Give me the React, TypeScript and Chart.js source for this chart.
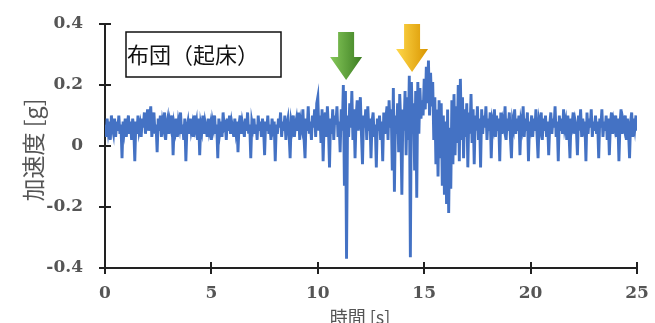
import { useEffect, useRef } from "react";
import { Chart, registerables } from "chart.js";

Chart.register(...registerables);

// sampling interval [s]
const DT = 0.05;

// acceleration [g], one row per second (20 samples each)
const accel: number[] = [
  0.07, 0.03, 0.09, 0.05, 0.08, 0.02, 0.10, 0.06, 0.04, 0.09, 0.03, 0.08, 0.05, 0.10, 0.04, 0.07, -0.04, 0.08, 0.05, 0.09,
  0.03, 0.07, 0.10, 0.04, 0.08, 0.02, 0.09, 0.06, -0.05, 0.08, 0.04, 0.10, 0.05, 0.07, 0.03, 0.09, 0.06, 0.11, 0.04, 0.08,
  0.12, 0.05, 0.09, 0.13, 0.03, 0.08, 0.11, 0.04, 0.07, -0.02, 0.09, 0.05, 0.10, 0.03, 0.08, 0.06, 0.11, 0.02, 0.07, 0.09,
  0.04, 0.08, 0.06, 0.10, -0.03, 0.07, 0.05, 0.09, 0.03, 0.08, 0.06, 0.11, 0.04, 0.07, 0.02, 0.09, -0.05, 0.06, 0.08, 0.04,
  0.09, 0.05, 0.07, 0.03, 0.10, 0.06, 0.08, 0.02, 0.09, -0.03, 0.07, 0.05, 0.10, 0.04, 0.08, 0.06, 0.03, 0.09, 0.05, 0.07,
  0.02, 0.08, 0.06, 0.10, 0.04, 0.07, -0.04, 0.09, 0.05, 0.08, 0.03, 0.11, 0.06, 0.07, 0.02, 0.09, 0.05, 0.10, 0.04, 0.08,
  0.06, 0.03, 0.09, 0.05, 0.08, -0.02, 0.07, 0.10, 0.04, 0.08, 0.06, 0.03, 0.09, 0.05, 0.11, 0.04, 0.07, -0.04, 0.08, 0.06,
  0.09, 0.04, 0.07, 0.02, 0.10, 0.05, 0.08, 0.03, 0.09, 0.06, -0.03, 0.08, 0.05, 0.10, 0.04, 0.07, 0.02, 0.09, 0.06, 0.08,
  -0.05, 0.07, 0.04, 0.09, 0.06, 0.11, 0.03, 0.08, 0.05, 0.10, 0.02, 0.07, 0.09, 0.04, -0.04, 0.08, 0.06, 0.10, 0.03, 0.07,
  0.09, 0.05, 0.11, 0.02, 0.08, 0.06, 0.12, 0.03, -0.04, 0.09, 0.05, 0.13, 0.04, 0.08, 0.02, 0.10, 0.06, 0.12, 0.03, 0.14,
  0.16, 0.05, 0.10, 0.01, 0.12, -0.05, 0.08, 0.11, 0.03, 0.13, 0.06, -0.07, 0.09, 0.04, 0.12, 0.02, 0.10, 0.07, 0.13, 0.03,
  0.08, -0.02, 0.12, 0.05, 0.20, -0.13, 0.18, -0.37, 0.10, 0.03, 0.14, 0.06, 0.18, 0.02, 0.12, -0.04, 0.09, 0.15, 0.05, 0.11,
  0.16, 0.04, -0.06, 0.10, 0.06, 0.12, 0.02, 0.13, 0.05, 0.09, -0.04, 0.08, 0.11, 0.03, 0.07, -0.07, 0.09, 0.05, 0.10, 0.02,
  0.08, -0.05, 0.11, 0.04, 0.09, 0.13, 0.02, 0.15, 0.06, 0.12, -0.08, 0.19, -0.15, 0.10, 0.04, 0.14, -0.02, 0.17, 0.07, -0.16,
  0.12, 0.05, 0.18, -0.03, 0.16, 0.02, 0.23, -0.365, 0.21, 0.06, 0.14, -0.08, 0.18, -0.17, 0.21, 0.04, 0.19, 0.09, 0.15, 0.10,
  0.22, 0.12, 0.26, 0.14, 0.28, 0.10, 0.24, 0.13, 0.21, 0.02, 0.16, -0.06, 0.12, -0.10, 0.15, -0.04, 0.14, -0.13, 0.10, -0.16,
  0.08, -0.19, 0.12, -0.22, 0.06, -0.14, 0.15, -0.06, 0.17, -0.03, 0.13, 0.01, 0.20, -0.05, 0.22, 0.02, 0.16, -0.04, 0.12, 0.03,
  0.14, -0.07, 0.11, 0.04, 0.17, 0.01, 0.12, -0.06, 0.10, 0.05, 0.13, 0.02, 0.09, -0.07, 0.12, 0.04, 0.10, 0.06, 0.13, 0.02,
  0.09, 0.05, 0.11, -0.04, 0.08, 0.06, 0.12, 0.03, 0.10, 0.05, 0.09, -0.05, 0.11, 0.04, 0.08, 0.06, 0.13, 0.02, 0.09, 0.05,
  0.11, 0.03, -0.04, 0.08, 0.06, 0.12, 0.04, 0.09, 0.05, 0.10, -0.03, 0.08, 0.06, 0.13, 0.03, 0.09, 0.05, 0.11, -0.05, 0.08,
  0.06, 0.10, 0.03, 0.09, 0.05, 0.12, 0.04, -0.04, 0.08, 0.06, 0.11, 0.02, 0.09, 0.05, 0.10, 0.03, 0.08, -0.03, 0.07, 0.11,
  0.04, 0.09, 0.06, 0.13, 0.03, 0.08, -0.05, 0.10, 0.05, 0.09, 0.04, 0.12, 0.06, 0.08, 0.02, 0.10, 0.05, -0.04, 0.09, 0.07,
  0.11, 0.04, 0.08, 0.06, -0.03, 0.10, 0.05, 0.12, 0.03, 0.09, 0.06, 0.08, -0.05, 0.11, 0.04, 0.09, 0.06, 0.12, 0.03, 0.08,
  0.05, 0.10, 0.04, 0.08, -0.04, 0.09, 0.06, 0.12, 0.03, 0.08, 0.05, 0.10, 0.02, 0.09, -0.03, 0.07, 0.11, 0.04, 0.08, 0.06,
  0.10, 0.03, 0.09, -0.05, 0.07, 0.12, 0.04, 0.08, 0.06, 0.10, 0.02, 0.09, 0.05, -0.04, 0.08, 0.11, 0.03, 0.09, 0.06, 0.10,
  0.05,
];

const xTicks = [0, 5, 10, 15, 20, 25];
const yTicks = [-0.4, -0.2, 0, 0.2, 0.4];
const xTitle = "時間 [s]";
const yTitle = "加速度 [g]";
const boxLabel = "布団（起床）";

// arrow markers: time [s] and acceleration [g] of the arrow tip
const arrowTimes = [11.33, 14.43];
const arrowTips = [0.216, 0.243];
const arrowColors = [
  ["#86c85a", "#3c7d22"],
  ["#ffd84a", "#d99500"],
];

const AXIS_COLOR = "#222222";
const TEXT_COLOR = "#555555";
const NUM_FONT = "'DejaVu Serif', serif";
const CJK_FONT = "'Noto Sans CJK JP', sans-serif";

const decorPlugin = {
  id: "decor",
  afterDraw(chart: any) {
    const ctx = chart.ctx as CanvasRenderingContext2D;
    const xs = chart.scales.x;
    const ys = chart.scales.y;
    const area = chart.chartArea;
    ctx.save();

    // crossing tick marks
    ctx.strokeStyle = AXIS_COLOR;
    ctx.lineWidth = 2;
    ctx.beginPath();
    for (const v of xTicks) {
      const px = Math.round(xs.getPixelForValue(v));
      ctx.moveTo(px, area.bottom - 6);
      ctx.lineTo(px, area.bottom + 6);
    }
    for (const v of yTicks) {
      const py = Math.round(ys.getPixelForValue(v));
      ctx.moveTo(area.left - 6, py);
      ctx.lineTo(area.left + 6, py);
    }
    ctx.stroke();

    // label box
    const bx = area.left + 21;
    const by = area.top + 8;
    const bw = 155;
    const bh = 45;
    ctx.fillStyle = "#ffffff";
    ctx.fillRect(bx, by, bw, bh);
    ctx.lineWidth = 1.5;
    ctx.strokeStyle = "#111111";
    ctx.strokeRect(bx, by, bw, bh);
    ctx.fillStyle = "#111111";
    ctx.font = `22px ${CJK_FONT}`;
    ctx.textAlign = "left";
    ctx.textBaseline = "middle";
    ctx.fillText(boxLabel, bx + 1, by + bh / 2);

    // arrows
    arrowTimes.forEach((t, i) => {
      const tx = xs.getPixelForValue(t);
      const ty = ys.getPixelForValue(arrowTips[i]);
      const headW = 32;
      const headH = 23;
      const shaftW = 16;
      const shaftH = 25;
      const grad = ctx.createLinearGradient(tx - headW / 2, 0, tx + headW / 2, 0);
      grad.addColorStop(0, arrowColors[i][0]);
      grad.addColorStop(1, arrowColors[i][1]);
      ctx.fillStyle = grad;
      ctx.beginPath();
      ctx.moveTo(tx, ty);
      ctx.lineTo(tx - headW / 2, ty - headH);
      ctx.lineTo(tx - shaftW / 2, ty - headH);
      ctx.lineTo(tx - shaftW / 2, ty - headH - shaftH);
      ctx.lineTo(tx + shaftW / 2, ty - headH - shaftH);
      ctx.lineTo(tx + shaftW / 2, ty - headH);
      ctx.lineTo(tx + headW / 2, ty - headH);
      ctx.closePath();
      ctx.fill();
    });

    // axis titles
    ctx.fillStyle = "#555555";
    ctx.font = `18px ${CJK_FONT}`;
    ctx.textAlign = "center";
    ctx.textBaseline = "middle";
    ctx.fillText(xTitle, 360, 317);

    ctx.save();
    ctx.translate(33, 150);
    ctx.rotate(-Math.PI / 2);
    ctx.font = `23px ${CJK_FONT}`;
    ctx.fillText(yTitle, 0, 0);
    ctx.restore();

    ctx.restore();
  },
};

export default function App() {
  const canvasRef = useRef<HTMLCanvasElement | null>(null);

  useEffect(() => {
    if (!canvasRef.current) return;
    const points = accel.map((g, i) => ({ x: i * DT, y: g }));
    const chart = new Chart(canvasRef.current, {
      type: "line",
      data: {
        datasets: [
          {
            data: points,
            borderColor: "#4472C4",
            borderWidth: 2.9,
            pointRadius: 0,
            tension: 0,
            fill: false,
          },
        ],
      },
      options: {
        animation: false,
        responsive: false,
        maintainAspectRatio: false,
        layout: { padding: { top: 24, right: 18, left: 0, bottom: 0 } },
        plugins: {
          legend: { display: false },
          tooltip: { enabled: false },
        },
        scales: {
          x: {
            type: "linear",
            min: 0,
            max: 25,
            afterBuildTicks: (s: any) => {
              s.ticks = xTicks.map((v) => ({ value: v }));
            },
            afterFit: (s: any) => {
              s.height = 55;
              s.paddingLeft = 0;
              s.paddingRight = 0;
            },
            grid: { display: false, drawTicks: false },
            border: { display: true, color: AXIS_COLOR, width: 2 },
            ticks: {
              padding: 15,
              color: TEXT_COLOR,
              font: { family: NUM_FONT, size: 17, weight: "bold" },
              maxRotation: 0,
              autoSkip: false,
              callback: (v: any) => String(v),
            },
          },
          y: {
            type: "linear",
            min: -0.4,
            max: 0.4,
            afterBuildTicks: (s: any) => {
              s.ticks = yTicks.map((v) => ({ value: v }));
            },
            afterFit: (s: any) => {
              s.width = 105;
              s.paddingTop = 0;
              s.paddingBottom = 0;
            },
            grid: { display: false, drawTicks: false },
            border: { display: true, color: AXIS_COLOR, width: 2 },
            ticks: {
              padding: 22,
              color: TEXT_COLOR,
              font: { family: NUM_FONT, size: 17, weight: "bold" },
              autoSkip: false,
              callback: (v: any) => String(Number(Number(v).toFixed(1))),
            },
          },
        },
      },
      plugins: [decorPlugin],
    });
    return () => chart.destroy();
  }, []);

  return (
    <div style={{ position: "fixed", left: 0, top: 0, width: 655, height: 323, background: "#ffffff" }}>
      <canvas ref={canvasRef} width={655} height={323} />
    </div>
  );
}
